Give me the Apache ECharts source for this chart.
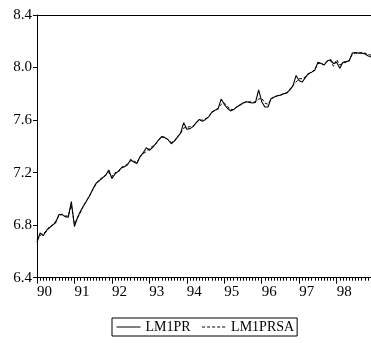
<!DOCTYPE html>
<html><head><meta charset="utf-8">
<script src="https://cdn.jsdelivr.net/npm/echarts@6/dist/echarts.min.js"></script>
<style>html,body{margin:0;padding:0;background:#fff}#c{width:371px;height:343px}</style>
</head><body><div id="c"></div>
<script>
const years = ['90','91','92','93','94','95','96','97','98'];
const lm1pr = [
 6.67, 6.74, 6.72, 6.76, 6.78, 6.80, 6.82, 6.88, 6.88, 6.865, 6.86, 6.98,
 6.79, 6.86, 6.91, 6.95, 6.99, 7.03, 7.08, 7.12, 7.14, 7.16, 7.18, 7.22,
 7.155, 7.19, 7.21, 7.235, 7.245, 7.26, 7.30, 7.28, 7.27, 7.32, 7.35, 7.39,
 7.37, 7.39, 7.42, 7.45, 7.475, 7.465, 7.45, 7.42, 7.44, 7.47, 7.50, 7.58,
 7.53, 7.535, 7.55, 7.58, 7.605, 7.59, 7.605, 7.625, 7.66, 7.675, 7.685, 7.76,
 7.72, 7.69, 7.67, 7.68, 7.70, 7.715, 7.73, 7.74, 7.735, 7.73, 7.735, 7.83,
 7.74, 7.70, 7.70, 7.765, 7.775, 7.785, 7.79, 7.80, 7.805, 7.83, 7.86, 7.94,
 7.90, 7.89, 7.925, 7.955, 7.965, 7.98, 8.04, 8.03, 8.02, 8.05, 8.06, 8.03,
 8.04, 7.995, 8.04, 8.045, 8.05, 8.11, 8.115, 8.11, 8.11, 8.105, 8.09, 8.08
];
const lm1prsa = [
 6.69, 6.72, 6.74, 6.75, 6.79, 6.80, 6.83, 6.87, 6.885, 6.87, 6.87, 6.95,
 6.81, 6.855, 6.90, 6.955, 6.99, 7.035, 7.075, 7.12, 7.145, 7.165, 7.18, 7.20,
 7.17, 7.20, 7.20, 7.24, 7.25, 7.265, 7.29, 7.29, 7.275, 7.32, 7.345, 7.36,
 7.385, 7.40, 7.415, 7.45, 7.47, 7.47, 7.45, 7.43, 7.44, 7.475, 7.50, 7.54,
 7.545, 7.55, 7.555, 7.58, 7.60, 7.60, 7.61, 7.625, 7.66, 7.675, 7.69, 7.72,
 7.73, 7.705, 7.68, 7.68, 7.70, 7.715, 7.725, 7.74, 7.74, 7.735, 7.74, 7.76,
 7.765, 7.73, 7.72, 7.76, 7.775, 7.785, 7.79, 7.80, 7.81, 7.835, 7.865, 7.89,
 7.915, 7.915, 7.93, 7.95, 7.965, 7.985, 8.03, 8.035, 8.02, 8.05, 8.055, 8.01,
 8.06, 8.02, 8.035, 8.04, 8.055, 8.10, 8.11, 8.11, 8.115, 8.11, 8.10, 8.095
];
// categories: one per month
const months = [];
years.forEach(y => { for (let m = 1; m <= 12; m++) months.push(y + 'M' + (m < 10 ? '0' + m : m)); });

const FONT = 'Liberation Serif';
const chart = echarts.init(document.getElementById('c'), null, {renderer: 'canvas'});
chart.setOption({
  animation: false,
  backgroundColor: '#fff',
  grid: {left: 37, right: -1, top: 15, bottom: 65.3, show: false},
  legend: {
    left: 112, top: 318,
    data: ['LM1PR', 'LM1PRSA'],
    borderColor: '#000', borderWidth: 1, borderRadius: 0,
    padding: [2, 3, 2, 4], itemGap: 11, itemWidth: 24, itemHeight: 14,
    itemStyle: {opacity: 0},
    lineStyle: {width: 1},
    textStyle: {fontFamily: FONT, fontSize: 14, color: '#000'}
  },
  xAxis: [
    {type: 'category', data: months, boundaryGap: false, position: 'bottom',
     axisLine: {show: true, lineStyle: {color: '#000', width: 1}},
     axisTick: {show: true, interval: 0, length: 3, inside: false, lineStyle: {color: '#000'}},
     axisLabel: {show: false}, splitLine: {show: false}},
    {type: 'category', data: months, boundaryGap: false, position: 'bottom',
     axisLine: {show: false},
     axisTick: {show: true, interval: (i) => i % 12 === 0, length: 6, lineStyle: {color: '#000'}},
     axisLabel: {show: true, interval: (i) => i % 12 === 0, align: 'left', margin: 7,
       hideOverlap: false,
       formatter: (v, i) => (i % 12 === 0 ? v.slice(0, 2) : ''), fontFamily: FONT, fontSize: 15, color: '#000'},
     splitLine: {show: false}},
    {type: 'category', data: months, boundaryGap: false, position: 'top',
     axisLine: {show: true, lineStyle: {color: '#000', width: 1}},
     axisTick: {show: false}, axisLabel: {show: false}, splitLine: {show: false}}
  ],
  yAxis: {
    type: 'value', min: 6.4, max: 8.4, interval: 0.4,
    axisLine: {show: true, lineStyle: {color: '#000', width: 1}},
    axisTick: {show: true, length: 4, lineStyle: {color: '#000'}},
    axisLabel: {margin: 5, formatter: (v) => v.toFixed(1), fontFamily: FONT, fontSize: 15, color: '#000'},
    splitLine: {show: false}
  },
  series: [
    {name: 'LM1PR', type: 'line', data: lm1pr, xAxisIndex: 0, symbol: 'none',
     lineStyle: {color: '#000', width: 1.1}, itemStyle: {color: '#000'}},
    {name: 'LM1PRSA', type: 'line', data: lm1prsa, xAxisIndex: 0, symbol: 'none',
     lineStyle: {color: '#000', width: 1, type: [3, 2]}, itemStyle: {color: '#000'}}
  ]
});
</script></body></html>
